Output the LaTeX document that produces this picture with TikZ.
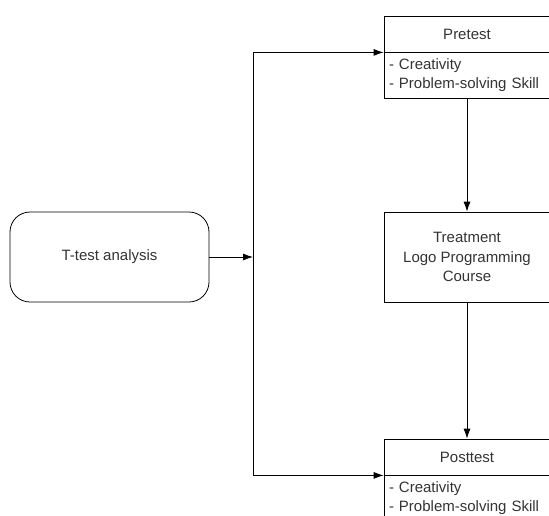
\documentclass[tikz,border=0pt]{standalone}
\usepackage{fontspec}
\setmainfont{Liberation Sans}
\usetikzlibrary{arrows.meta}
\begin{document}
\begin{tikzpicture}[x=1pt,y=-1pt,
    box/.style={draw,line width=0.8pt,inner sep=0pt,minimum width=166pt,
      font=\fontsize{15}{19.5}\selectfont,text=black!80},
    listbox/.style={box,text width=156pt,inner xsep=5pt,align=left,minimum height=46pt},
    arr/.style={-{Latex[length=10pt,width=7pt]},line width=0.8pt}]
      \useasboundingbox (0,0) rectangle (549,515);
      \clip (0,0) rectangle (549,515);
      \draw
        (467,34) node[box,minimum height=36pt] (prehead){Pretest}
        (467,75) node[listbox] (prelist){- Creativity\\- Problem-solving Skill}
        (467,257) node[box,minimum height=90pt,align=center] (treat){Treatment\\Logo Programming\\Course}
        (467,457) node[box,minimum height=36pt] (posthead){Posttest}
        (467,498) node[listbox] (postlist){- Creativity\\- Problem-solving Skill}
        (109.5,257) node[box,minimum width=199pt,minimum height=90pt,rounded corners=20pt] (ttest){T-test analysis};
      \coordinate (split) at (253,257);
      \begin{scope}[arr]
        \draw (prelist) to (treat);
        \draw (treat) to (posthead);
        \draw (ttest) to (split);
        \draw (split) |- (prehead.south west);
        \draw (split) |- (posthead.south west);
      \end{scope}
    \end{tikzpicture}
\end{document}
